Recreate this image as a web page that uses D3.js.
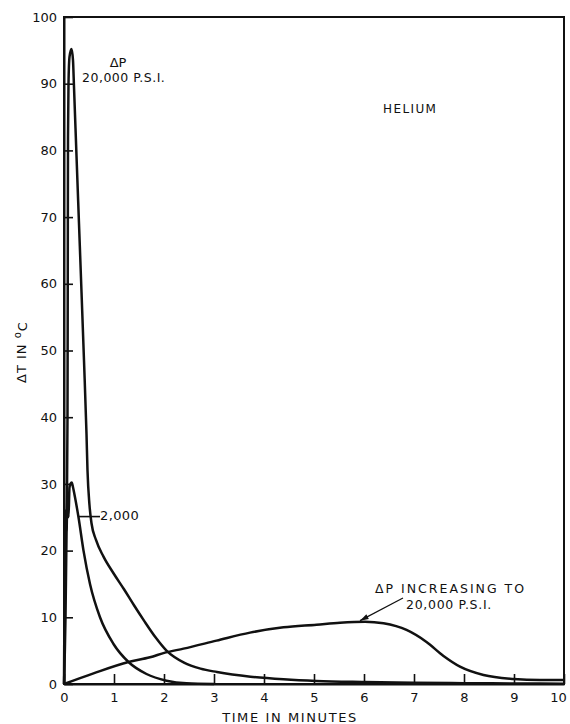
<!DOCTYPE html>
<html>
<head>
<meta charset="utf-8">
<script src="https://cdn.jsdelivr.net/npm/d3@7"></script>
<style>
  body { margin: 0; background: #fff; }
  svg { display: block; }
  text { font-family: "DejaVu Sans", sans-serif; fill: #111; }
</style>
</head>
<body>
<div id="chart"></div>
<script>
// curve read from the plate: dP 20,000 psi (step)
var highTime = [0, 0.03, 0.055, 0.07, 0.075, 0.08, 0.09, 0.11, 0.15, 0.18, 0.2, 0.25, 0.3, 0.35, 0.4, 0.45, 0.47, 0.51, 0.55, 0.64, 0.79, 0.99, 1.2, 1.4, 1.6, 1.83, 2.05, 2.4, 2.73, 3.06, 3.73, 4.39, 5.05, 6, 7, 8, 9, 10];
var highDT   = [0, 10, 25, 40, 60, 82, 90, 94, 95.2, 93.5, 89.5, 79.2, 69, 58.8, 48.5, 37.5, 32, 26.8, 24.1, 21.6, 19.1, 16.6, 14.2, 11.8, 9.5, 7.0, 5.0, 3.2, 2.3, 1.8, 1.1, 0.7, 0.45, 0.3, 0.2, 0.12, 0.08, 0.05];

// dP 2,000 psi
var lowTime = [0, 0.015, 0.03, 0.05, 0.07, 0.09, 0.11, 0.13, 0.155, 0.18, 0.22, 0.29, 0.39, 0.52, 0.72, 0.99, 1.29, 1.65, 2.05, 2.45, 3];
var lowDT   = [0, 20, 26, 23, 28, 25, 29.5, 30, 30.2, 29.5, 28, 25, 20, 15, 10, 6, 3.3, 1.5, 0.5, 0.1, 0];

// dP increasing to 20,000 psi
var rampTime = [0, 0.59, 1.29, 1.72, 2.02, 2.39, 3.05, 3.72, 4.39, 5.05, 5.52, 6.02, 6.39, 6.85, 7.25, 7.59, 7.92, 8.39, 8.99, 9.52, 10];
var rampDT   = [0, 1.6, 3.3, 4.0, 4.7, 5.3, 6.5, 7.7, 8.5, 8.9, 9.2, 9.35, 9.1, 8.1, 6.3, 4.2, 2.6, 1.35, 0.75, 0.6, 0.6];

var xTicks = [0, 1, 2, 3, 4, 5, 6, 7, 8, 9, 10];
var yTicks = [0, 10, 20, 30, 40, 50, 60, 70, 80, 90, 100];

var width = 570, height = 724;
var margin = { top: 17, right: 6, bottom: 40, left: 64 };

var svg = d3.select("#chart").append("svg")
    .attr("width", width)
    .attr("height", height);

var x = d3.scaleLinear().domain([0, 10]).range([margin.left, width - margin.right]);
var y = d3.scaleLinear().domain([0, 100]).range([height - margin.bottom, margin.top]);

// frame
svg.append("rect")
    .attr("x", x(0)).attr("y", y(100))
    .attr("width", x(10) - x(0)).attr("height", y(0) - y(100))
    .attr("fill", "none").attr("stroke", "#111").attr("stroke-width", 2);

var xAxis = svg.append("g")
    .attr("transform", "translate(0," + y(0) + ")")
    .call(d3.axisBottom(x).tickValues(xTicks).tickSizeInner(-10).tickSizeOuter(0).tickPadding(9));
var yAxis = svg.append("g")
    .attr("transform", "translate(" + x(0) + ",0)")
    .call(d3.axisLeft(y).tickValues(yTicks).tickSizeInner(-9).tickSizeOuter(0).tickPadding(7));

[xAxis, yAxis].forEach(function (g) {
    g.select(".domain").attr("stroke", "#111").attr("stroke-width", 2);
    g.selectAll(".tick line").attr("stroke", "#111").attr("stroke-width", 1.6);
    g.selectAll(".tick text").style("font-size", "13px").attr("fill", "#111");
});
// last label sits on the page edge, pull it in a little
xAxis.selectAll(".tick text").filter(function (d) { return d === 10; }).attr("dx", -6);

var line = d3.line()
    .x(function (d) { return x(d[0]); })
    .y(function (d) { return y(d[1]); })
    .curve(d3.curveMonotoneX);

function pairs(t, v) {
    return t.map(function (d, i) { return [d, v[i]]; });
}

[pairs(highTime, highDT), pairs(lowTime, lowDT), pairs(rampTime, rampDT)].forEach(function (s) {
    svg.append("path")
        .datum(s)
        .attr("d", line)
        .attr("fill", "none")
        .attr("stroke", "#111")
        .attr("stroke-width", 2.5)
        .attr("stroke-linejoin", "round");
});

// axis titles
svg.append("text")
    .attr("x", 290).attr("y", 722)
    .attr("text-anchor", "middle")
    .style("font-size", "13px")
    .style("letter-spacing", "1.6px")
    .text("TIME IN MINUTES");

var yt = svg.append("text")
    .attr("transform", "translate(26,352) rotate(-90)")
    .attr("text-anchor", "middle")
    .style("font-size", "13px")
    .style("letter-spacing", "1px");
yt.append("tspan").text("ΔT IN ");
yt.append("tspan").attr("dy", -5).style("font-size", "10px").text("o");
yt.append("tspan").attr("dy", 6).text("C");

// annotations
svg.append("text").attr("x", 118).attr("y", 67).attr("text-anchor", "middle")
    .style("font-size", "13px").text("ΔP");
svg.append("text").attr("x", 82).attr("y", 82)
    .style("font-size", "12.5px").style("letter-spacing", "0.5px").text("20,000 P.S.I.");

svg.append("text").attr("x", 383).attr("y", 113)
    .style("font-size", "12px").style("letter-spacing", "1.4px").text("HELIUM");

svg.append("line")
    .attr("x1", x(0.29)).attr("y1", y(25.1))
    .attr("x2", 100).attr("y2", y(25.1))
    .attr("stroke", "#111").attr("stroke-width", 1.6);
svg.append("text").attr("x", 100).attr("y", 520)
    .style("font-size", "13px").style("letter-spacing", "0.4px").text("2,000");

svg.append("text").attr("x", 375).attr("y", 593)
    .style("font-size", "12.5px").style("letter-spacing", "2px").text("ΔP INCREASING TO");
svg.append("text").attr("x", 406).attr("y", 609)
    .style("font-size", "12.5px").style("letter-spacing", "0.7px").text("20,000 P.S.I.");

// arrow to the ramp curve
var ax = x(5.92), ay = y(9.35) - 1, bx = 403, by = 598;
var ang = Math.atan2(ay - by, ax - bx);
svg.append("line")
    .attr("x1", bx).attr("y1", by).attr("x2", ax).attr("y2", ay)
    .attr("stroke", "#111").attr("stroke-width", 1.2);
svg.append("path")
    .attr("d", d3.line()([
        [ax, ay],
        [ax - 9 * Math.cos(ang - 0.3), ay - 9 * Math.sin(ang - 0.3)],
        [ax - 9 * Math.cos(ang + 0.3), ay - 9 * Math.sin(ang + 0.3)]
    ]) + "Z")
    .attr("fill", "#111");
</script>
</body>
</html>
